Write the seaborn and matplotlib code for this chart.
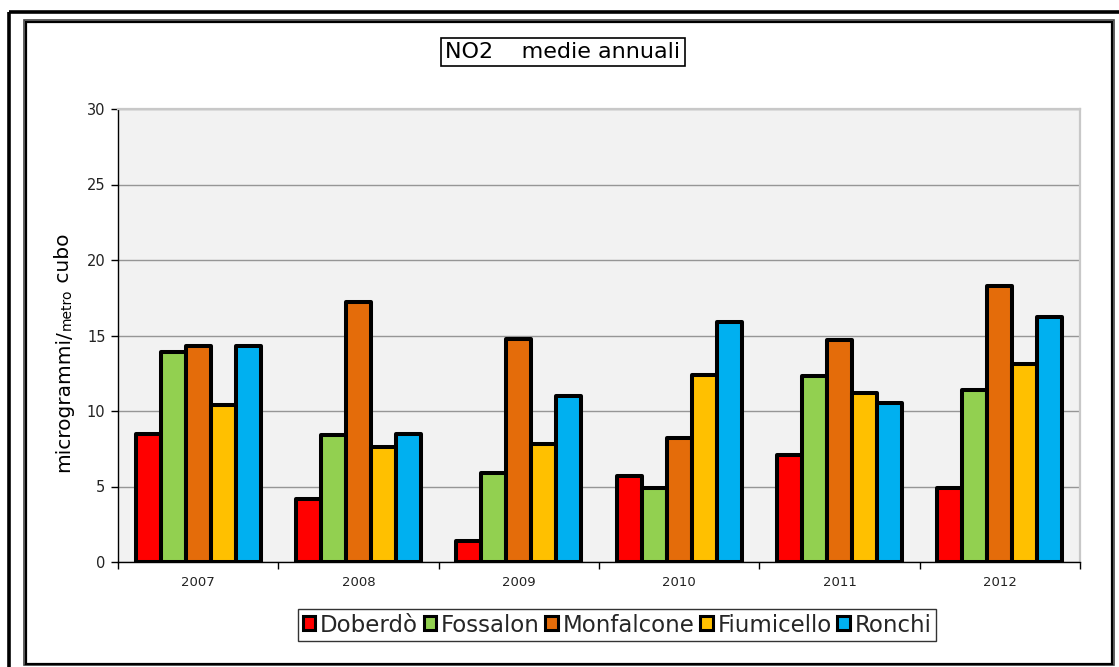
import numpy as np
import pandas as pd
import matplotlib
matplotlib.use("Agg")
import matplotlib.pyplot as plt
from matplotlib.patches import Rectangle
from matplotlib.lines import Line2D
import seaborn as sns

years = ["2007", "2008", "2009", "2010", "2011", "2012"]
stations = ["Doberdò", "Fossalon", "Monfalcone", "Fiumicello", "Ronchi"]
doberdo = [8.5, 4.2, 1.4, 5.7, 7.1, 4.9]
fossalon = [13.9, 8.4, 5.9, 4.9, 12.3, 11.4]
monfalcone = [14.3, 17.2, 14.8, 8.2, 14.7, 18.3]
fiumicello = [10.4, 7.6, 7.8, 12.4, 11.2, 13.1]
ronchi = [14.3, 8.5, 11.0, 15.9, 10.5, 16.2]
colors = ["#FF0000", "#92D050", "#E46C0A", "#FFC000", "#00B0F0"]

series = [doberdo, fossalon, monfalcone, fiumicello, ronchi]
df = pd.DataFrame(
    [(y, s, v) for s, vals in zip(stations, series) for y, v in zip(years, vals)],
    columns=["anno", "stazione", "valore"],
)

sns.set_theme(style="white")
plt.rcParams["font.family"] = ["DejaVu Sans"]

W, H = 1119, 667
fig = plt.figure(figsize=(W / 100, H / 100), dpi=100)

# frames around the chart
def frect(x0, y0, x1, y1, lw, color="black"):
    fig.add_artist(Rectangle((x0 / W, 1 - y1 / H), (x1 - x0) / W, (y1 - y0) / H,
                             transform=fig.transFigure, fill=False,
                             lw=lw, edgecolor=color, zorder=10))

fig.add_artist(Line2D([8.5 / W, 1], [1 - 11.5 / H] * 2, transform=fig.transFigure,
                      color="black", lw=2.6, solid_capstyle="butt"))
fig.add_artist(Line2D([8.5 / W] * 2, [0, 1 - 11.5 / H], transform=fig.transFigure,
                      color="black", lw=2.6, solid_capstyle="butt"))
frect(23.5, 19.5, 1113.5, 665, 1.2, "#444444")
frect(26, 21.5, 1112, 663.5, 1.6)

ax = fig.add_axes([118 / W, 1 - 562 / H, (1080 - 118) / W, (562 - 109) / H])
ax.set_facecolor("#F2F2F2")

sns.barplot(data=df, x="anno", y="valore", hue="stazione", order=years,
            hue_order=stations, palette=colors, saturation=1, width=0.78, gap=0,
            edgecolor="black", linewidth=2.9, ax=ax, legend=False, zorder=3)
for p in ax.patches:
    p.set_joinstyle("round")

ax.set_ylim(0, 30)
ax.set_xlim(-0.5, len(years) - 0.5)
ax.set_yticks(np.arange(0, 31, 5))
ax.yaxis.grid(True, color="#969696", lw=1.0, zorder=0)
ax.set_axisbelow(True)
ax.xaxis.grid(False)

for side in ["top", "right"]:
    ax.spines[side].set_color("#C8C8C8")
    ax.spines[side].set_linewidth(1.6)
for side in ["left", "bottom"]:
    ax.spines[side].set_color("black")
    ax.spines[side].set_linewidth(1.0)

ax.tick_params(axis="y", which="major", left=True, length=5, width=1, color="black",
               labelsize=10.5, pad=4, labelcolor="#222222")
ax.tick_params(axis="x", which="major", bottom=False, labelsize=9.5, pad=4,
               labelcolor="#222222")
ax.set_xticks(np.arange(-0.5, len(years) + 0.5, 1), minor=True)
ax.tick_params(axis="x", which="minor", bottom=True, length=5, width=1, color="black")
ax.set_xlabel("")
ax.set_ylabel("")

# title box
fig.text(563 / W, 1 - 52 / H, "NO2    medie annuali", ha="center", va="center",
         fontsize=16, color="black",
         bbox=dict(boxstyle="square,pad=0.2", facecolor="white", edgecolor="black", lw=1.2))

# y-axis label built from pieces of different sizes, sharing one baseline
fig.canvas.draw()
renderer = fig.canvas.get_renderer()
pieces = [("microgrammi/", 14.5, 0), ("metro", 10, 2), (" cubo", 14.5, 0)]
x_base = 69
y_cur = 472
for txt, fs, drop in pieces:
    t = fig.text((x_base + drop) / W, 1 - y_cur / H, txt, rotation=90, fontsize=fs,
                 ha="left", va="baseline", rotation_mode="anchor", color="black")
    bb = t.get_window_extent(renderer=renderer)
    y_cur -= bb.height

# legend
handles = [Rectangle((0, 0), 1, 1, facecolor=c, edgecolor="black", lw=2.2) for c in colors]
leg = fig.legend(handles, stations, loc="center", bbox_to_anchor=(617 / W, 1 - 625 / H),
                 ncol=5, frameon=True, fontsize=16.5, handlelength=0.55, handleheight=0.55,
                 handletextpad=0.2, columnspacing=0.25, borderpad=0.2, fancybox=False,
                 edgecolor="black")
leg.get_frame().set_linewidth(1.0)

fig.savefig("out.png", dpi=100, facecolor="white")
